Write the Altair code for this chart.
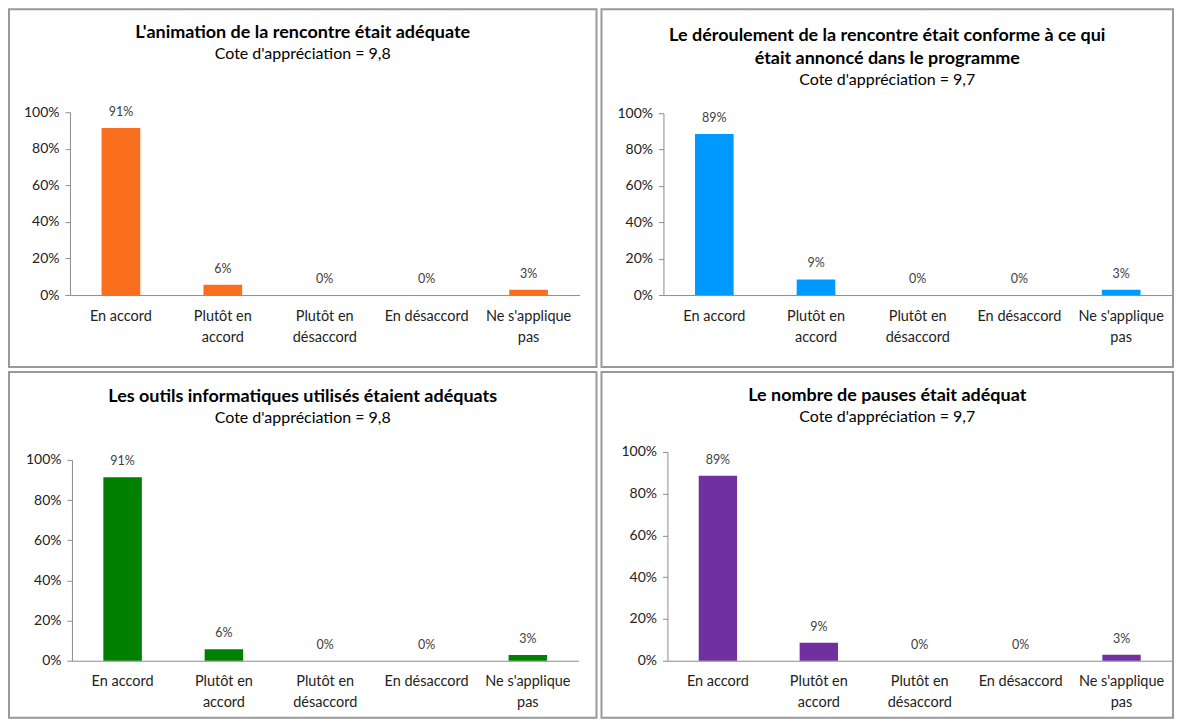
import altair as alt
import pandas as pd

CATEGORIES = ["En accord", "Plutôt en|accord", "Plutôt en|désaccord", "En désaccord", "Ne s'applique|pas"]

TITLES = [
    ["L'animation de la rencontre était adéquate"],
    ["Le déroulement de la rencontre était conforme à ce qui", "était annoncé dans le programme"],
    ["Les outils informatiques utilisés étaient adéquats"],
    ["Le nombre de pauses était adéquat"],
]
SUBTITLES = [
    "Cote d'appréciation = 9,8",
    "Cote d'appréciation = 9,7",
    "Cote d'appréciation = 9,8",
    "Cote d'appréciation = 9,7",
]
VALUES_1 = [0.914, 0.057, 0.0, 0.0, 0.029]
VALUES_2 = [0.886, 0.086, 0.0, 0.0, 0.029]
VALUES_3 = [0.914, 0.057, 0.0, 0.0, 0.029]
VALUES_4 = [0.886, 0.086, 0.0, 0.0, 0.029]
COLORS = ["#F96F1E", "#0099FF", "#008000", "#7030A0"]

FONT = "Lato"
AXIS_COLOR = "#8c8c8c"
TEXT_COLOR = "#222222"


def panel(idx, values, w, h, y0, y100, xr, title_offset):
    df = pd.DataFrame({"cat": CATEGORIES, "val": values})
    base = alt.Chart(df)
    x = alt.X(
        "cat:N",
        sort=CATEGORIES,
        scale=alt.Scale(range=xr, paddingInner=0.62, paddingOuter=0.31),
        axis=alt.Axis(
            title=None,
            labelAngle=0,
            ticks=False,
            domainColor=AXIS_COLOR,
            labelFont=FONT,
            labelFontSize=14.5,
            labelColor=TEXT_COLOR,
            labelPadding=14,
            labelLineHeight=21,
            labelLimit=200,
            labelExpr="split(datum.label, '|')",
            offset=-(h - y0),
        ),
    )
    y = alt.Y(
        "val:Q",
        scale=alt.Scale(domain=[0, 1], range=[y0, y100], nice=False),
        axis=alt.Axis(
            title=None,
            format=".0%",
            values=[0, 0.2, 0.4, 0.6, 0.8, 1.0],
            grid=False,
            domainColor=AXIS_COLOR,
            tickColor=AXIS_COLOR,
            tickSize=5,
            labelFont=FONT,
            labelFontSize=14,
            labelColor=TEXT_COLOR,
            labelPadding=6,
            offset=-xr[0],
        ),
    )
    bars = base.mark_bar(color=COLORS[idx]).encode(x=x, y=y)
    labels = base.mark_text(
        dy=-12, baseline="alphabetic", font=FONT, fontSize=12.5, color="#404040"
    ).encode(x=x, y=y, text=alt.Text("val:Q", format=".0%"))
    return alt.layer(bars, labels).properties(
        width=w,
        height=h,
        title=alt.TitleParams(
            text=TITLES[idx],
            subtitle=SUBTITLES[idx],
            anchor="middle",
            font=FONT,
            fontSize=18,
            fontWeight="bold",
            color="#000000",
            lineHeight=23,
            subtitleFont=FONT,
            subtitleFontSize=16,
            subtitleColor="#000000",
            subtitlePadding=4,
            offset=title_offset,
        ),
    )


p1 = panel(0, VALUES_1, 588, 358, 286, 103, [61, 571], -53)
p2 = panel(1, VALUES_2, 572, 358, 286, 104, [62, 571], -79)
p3 = panel(2, VALUES_3, 588, 346, 289, 88, [63, 570], -54)
p4 = panel(3, VALUES_4, 572, 346, 289, 80, [66, 571], -53)

chart = alt.vconcat(
    alt.hconcat(p1, p2, spacing=3),
    alt.hconcat(p3, p4, spacing=3),
    spacing=3,
).properties(padding=0).configure_view(
    stroke="#999999", strokeWidth=2
)

chart.save("out.html", embed_options={"renderer": "svg", "actions": False})
